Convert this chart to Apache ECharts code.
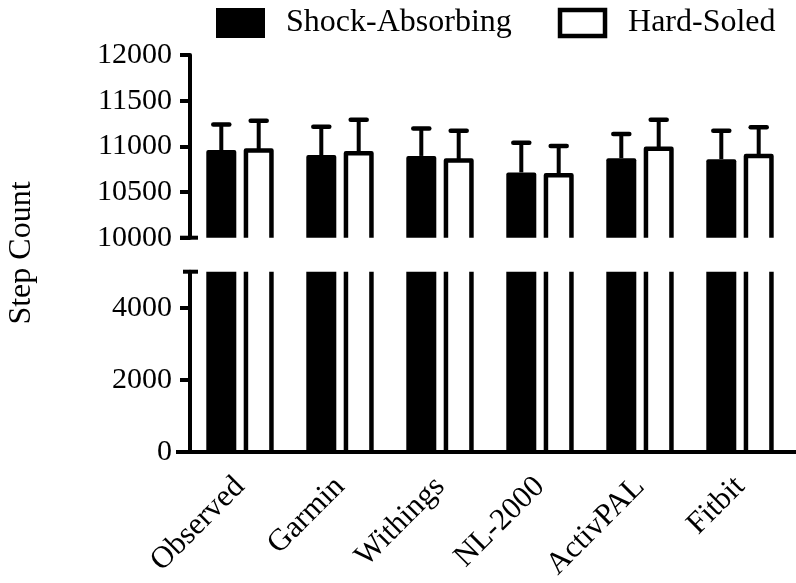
<!DOCTYPE html>
<html><head><meta charset="utf-8">
<script src="https://cdn.jsdelivr.net/npm/echarts@6/dist/echarts.min.js"></script>
<style>html,body{margin:0;padding:0;background:#fff}#c{width:796px;height:583px}</style>
</head><body><div id="c"></div>
<script>
const categories = ['Observed', 'Garmin', 'Withings', 'NL-2000', 'ActivPAL', 'Fitbit'];
const seriesNames = ['Shock-Absorbing', 'Hard-Soled'];
const shockMean = [10960, 10905, 10895, 10715, 10870, 10860];
const shockSD = [280, 310, 300, 325, 265, 310];
const hardMean = [10955, 10925, 10845, 10685, 10975, 10895];
const hardSD = [325, 365, 325, 320, 315, 315];
const upperTicks = [10000, 10500, 11000, 11500, 12000];
const lowerTicks = [0, 2000, 4000];
const lowerBreak = 5000;
const yTitle = 'Step Count';

const FONT = '"Liberation Serif","Times New Roman",serif';
const OFF = 0.187, BW = 0.30, WW = 0.255, CAP = 0.16;
const GL = 190, GW = 600;

function geom(params, api, side) {
  const cs = params.coordSys;
  const i = api.value(0), v = api.value(1);
  const band = api.size([1, 0])[0];
  const p = api.coord([i, v]);
  const base = api.coord([i, 0]);
  const cx = p[0] + side * OFF * band;
  const gTop = cs.y, gBot = cs.y + cs.height;
  return { band, cx, yTop: Math.max(p[1], gTop), yBot: Math.min(base[1], gBot), inside: p[1] >= gTop };
}
function renderShock(params, api) {
  const g = geom(params, api, -1);
  const w = BW * g.band;
  return { type: 'rect', shape: { x: g.cx - w / 2, y: g.yTop, width: w, height: g.yBot - g.yTop, r: g.inside ? [2, 2, 0, 0] : 0 }, style: { fill: '#000' } };
}
function renderHard(params, api) {
  const g = geom(params, api, 1);
  const w = WW * g.band;
  const l = g.cx - w / 2, r = g.cx + w / 2;
  const st = { stroke: '#000', lineWidth: 4.5, fill: null, lineJoin: 'round' };
  if (g.inside) {
    return { type: 'polyline', shape: { points: [[l, g.yBot], [l, g.yTop], [r, g.yTop], [r, g.yBot]] }, style: st };
  }
  return { type: 'group', children: [
    { type: 'line', shape: { x1: l, y1: g.yTop, x2: l, y2: g.yBot }, style: st },
    { type: 'line', shape: { x1: r, y1: g.yTop, x2: r, y2: g.yBot }, style: st }
  ] };
}
function makeErr(side) {
  return function (params, api) {
    const i = api.value(0), m = api.value(1), s = api.value(2);
    const band = api.size([1, 0])[0];
    const p0 = api.coord([i, m]), p1 = api.coord([i, m + s]);
    const cx = p0[0] + side * OFF * band, hw = CAP * band / 2;
    return { type: 'group', children: [
      { type: 'line', shape: { x1: cx, y1: p0[1], x2: cx, y2: p1[1] }, style: { stroke: '#000', lineWidth: 4 } },
      { type: 'line', shape: { x1: cx - hw, y1: p1[1], x2: cx + hw, y2: p1[1] }, style: { stroke: '#000', lineWidth: 4.5, lineCap: 'round' } }
    ] };
  };
}
const meanData = arr => arr.map((v, i) => [i, v]);
const errData = (m, s) => m.map((v, i) => [i, v, s[i]]);

const axisLineStyle = { color: '#000', width: 4 };
const yLabelStyle = { color: '#000', fontFamily: FONT, fontSize: 30 };
const xLabelStyle = { color: '#000', fontFamily: FONT, fontSize: 31 };

const chart = echarts.init(document.getElementById('c'), null, { renderer: 'canvas' });
const option = {
  animation: false,
  backgroundColor: '#fff',
  legend: {
    top: 7, left: 216, padding: 0, itemGap: 46, itemWidth: 45, itemHeight: 26,
    textStyle: { color: '#000', fontFamily: FONT, fontSize: 32, lineHeight: 32, padding: [0, 0, 0, 18] },
    data: [
      { name: seriesNames[0], icon: 'rect', itemStyle: { color: '#000', borderColor: '#000', borderWidth: 4 } },
      { name: seriesNames[1], icon: 'rect', itemStyle: { color: '#fff', borderColor: '#000', borderWidth: 4.5 } }
    ]
  },
  grid: [
    { left: GL, width: GW, top: 55, height: 182.7, outerBoundsMode: 'none' },
    { left: GL, width: GW, top: 271.7, height: 180.3, outerBoundsMode: 'none' }
  ],
  xAxis: [
    { gridIndex: 0, type: 'category', data: categories, show: false },
    { gridIndex: 1, type: 'category', data: categories,
      axisLine: { lineStyle: axisLineStyle },
      axisTick: { alignWithLabel: true, length: 12, lineStyle: axisLineStyle },
      axisLabel: Object.assign({ rotate: 45, margin: 30, interval: 0 }, xLabelStyle),
      splitLine: { show: false } }
  ],
  yAxis: [
    { gridIndex: 0, type: 'value', min: upperTicks[0], max: upperTicks[upperTicks.length - 1], interval: upperTicks[1] - upperTicks[0],
      axisLine: { show: true, lineStyle: axisLineStyle },
      axisTick: { show: true, length: 10, lineStyle: axisLineStyle },
      axisLabel: Object.assign({ margin: 18, formatter: v => String(v) }, yLabelStyle),
      splitLine: { show: false } },
    { gridIndex: 1, type: 'value', min: lowerTicks[0], max: lowerBreak, interval: lowerTicks[1] - lowerTicks[0],
      axisLine: { show: true, lineStyle: axisLineStyle },
      axisTick: { show: true, length: 10, lineStyle: axisLineStyle },
      axisLabel: Object.assign({ margin: 18, showMaxLabel: false, formatter: v => lowerTicks.includes(v) ? String(v) : '' }, yLabelStyle),
      splitLine: { show: false } }
  ],
  series: [
    { name: seriesNames[0], type: 'custom', xAxisIndex: 0, yAxisIndex: 0, renderItem: renderShock, data: meanData(shockMean), itemStyle: { color: '#000' }, clip: false },
    { name: seriesNames[1], type: 'custom', xAxisIndex: 0, yAxisIndex: 0, renderItem: renderHard, data: meanData(hardMean), itemStyle: { color: '#fff', borderColor: '#000' }, clip: false },
    { name: seriesNames[0], type: 'custom', xAxisIndex: 1, yAxisIndex: 1, renderItem: renderShock, data: meanData(shockMean), itemStyle: { color: '#000' }, clip: false },
    { name: seriesNames[1], type: 'custom', xAxisIndex: 1, yAxisIndex: 1, renderItem: renderHard, data: meanData(hardMean), itemStyle: { color: '#fff', borderColor: '#000' }, clip: false },
    { name: 'err-shock', type: 'custom', xAxisIndex: 0, yAxisIndex: 0, renderItem: makeErr(-1), data: errData(shockMean, shockSD), clip: false },
    { name: 'err-hard', type: 'custom', xAxisIndex: 0, yAxisIndex: 0, renderItem: makeErr(1), data: errData(hardMean, hardSD), clip: false }
  ]
};
chart.setOption(option);

const yBreakUp = chart.convertToPixel({ yAxisIndex: 0 }, upperTicks[0]);
const yBreakLow = chart.convertToPixel({ yAxisIndex: 1 }, lowerBreak);
const yZero = chart.convertToPixel({ yAxisIndex: 1 }, 0);
const ls = { stroke: '#000', lineWidth: 4 };
chart.setOption({
  graphic: [
    { type: 'line', shape: { x1: GL - 10, y1: yBreakUp, x2: GL + 8, y2: yBreakUp }, style: ls },
    { type: 'line', shape: { x1: GL - 7, y1: yBreakLow, x2: GL + 8, y2: yBreakLow }, style: ls },
    { type: 'line', shape: { x1: GL - 14, y1: yZero, x2: GL, y2: yZero }, style: ls },
    { type: 'line', shape: { x1: GL + GW, y1: yZero, x2: GL + GW + 6, y2: yZero }, style: ls },
    { type: 'text', x: 22, y: 253, rotation: Math.PI / 2,
      style: { text: yTitle, fill: '#000', font: '32px ' + FONT, textAlign: 'center', textVerticalAlign: 'middle' } }
  ]
});
</script>
</body></html>
